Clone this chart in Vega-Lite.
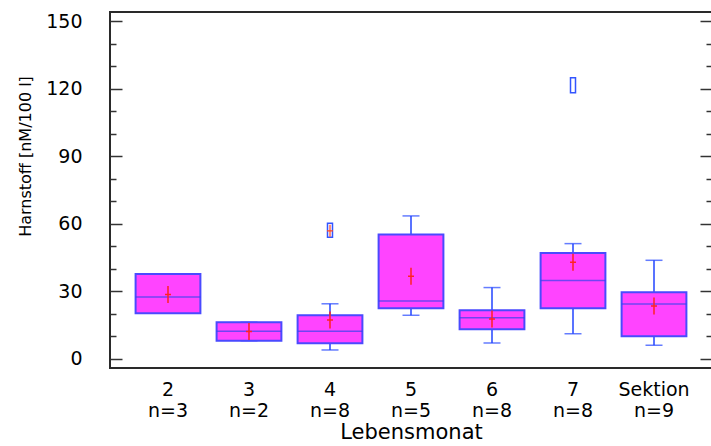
{
  "$schema": "https://vega.github.io/schema/vega-lite/v6.json",
  "width": 602,
  "height": 356,
  "autosize": "none",
  "padding": {"left": 110, "top": 12, "right": 0, "bottom": 78},
  "background": "white",
  "config": {
    "view": {"stroke": "#2a2a2a", "strokeWidth": 2},
    "axis": {
      "labelFont": "DejaVu Sans",
      "titleFont": "DejaVu Sans",
      "labelColor": "#000",
      "titleColor": "#000",
      "titleFontWeight": "normal",
      "grid": false,
      "domain": false,
      "tickColor": "#333",
      "tickWidth": 1.5
    }
  },
  "data": {
    "values": [
      {"grp": "2|n=3", "q1": 20.3, "q3": 37.7, "median": 27.5, "lo": 20.3, "hi": 37.7, "mean": 28.6, "olo": null, "ohi": null, "omean": null},
      {"grp": "3|n=2", "q1": 8.1, "q3": 16.3, "median": 12.3, "lo": 8.1, "hi": 16.3, "mean": 12.2, "olo": null, "ohi": null, "omean": null},
      {"grp": "4|n=8", "q1": 7.0, "q3": 19.4, "median": 12.3, "lo": 4.0, "hi": 24.5, "mean": 17.3, "olo": 54.0, "ohi": 60.2, "omean": 56.9},
      {"grp": "5|n=5", "q1": 22.5, "q3": 55.3, "median": 25.7, "lo": 19.4, "hi": 63.5, "mean": 36.7, "olo": null, "ohi": null, "omean": null},
      {"grp": "6|n=8", "q1": 13.2, "q3": 21.6, "median": 18.3, "lo": 7.1, "hi": 31.7, "mean": 17.8, "olo": null, "ohi": null, "omean": null},
      {"grp": "7|n=8", "q1": 22.5, "q3": 47.0, "median": 34.8, "lo": 11.2, "hi": 51.2, "mean": 42.9, "olo": 118.2, "ohi": 124.8, "omean": null},
      {"grp": "Sektion|n=9", "q1": 10.1, "q3": 29.6, "median": 24.4, "lo": 6.1, "hi": 43.8, "mean": 23.5, "olo": null, "ohi": null, "omean": null}
    ]
  },
  "encoding": {
    "x": {
      "field": "grp",
      "type": "nominal",
      "sort": null,
      "scale": {"type": "band", "paddingInner": 0.2, "paddingOuter": 0.316},
      "axis": {
        "title": "Lebensmonat",
        "titleFontSize": 21,
        "titlePadding": 1,
        "labelAngle": 0,
        "labelFontSize": 19,
        "labelLineHeight": 21,
        "labelExpr": "split(datum.label, '|')",
        "ticks": false,
        "tickSize": 0,
        "labelPadding": 12
      }
    }
  },
  "resolve": {"scale": {"y": "shared"}, "axis": {"y": "independent"}},
  "layer": [
    {
      "mark": {"type": "rule", "color": "#2244ff", "strokeWidth": 1.5},
      "encoding": {
        "y": {
          "field": "lo", "type": "quantitative",
          "scale": {"domain": [-4, 154], "nice": false, "zero": false},
          "axis": {
            "orient": "left",
            "values": [0, 30, 60, 90, 120, 150],
            "tickSize": -12,
            "labelPadding": 40,
            "labelFontSize": 19,
            "title": "Harnstoff [nM/100 l]",
            "titleFontSize": 16,
            "titlePadding": 12,
            "titleY": 144
          }
        },
        "y2": {"field": "hi"}
      }
    },
    {
      "mark": {"type": "tick", "color": "#2244ff", "size": 17, "thickness": 1.5},
      "encoding": {
        "y": {
          "field": "lo", "type": "quantitative",
          "scale": {"domain": [-4, 154], "nice": false, "zero": false},
          "axis": {
            "orient": "left",
            "values": [10, 20, 40, 50, 70, 80, 100, 110, 130, 140],
            "tickSize": -6,
            "labels": false,
            "title": null
          }
        }
      }
    },
    {
      "mark": {"type": "tick", "color": "#2244ff", "size": 17, "thickness": 1.5},
      "encoding": {
        "y": {
          "field": "hi", "type": "quantitative",
          "scale": {"domain": [-4, 154], "nice": false, "zero": false},
          "axis": {
            "orient": "right",
            "values": [0, 30, 60, 90, 120, 150],
            "tickSize": -12,
            "labels": false,
            "title": null
          }
        }
      }
    },
    {
      "mark": {"type": "bar", "fill": "#ff44ff", "stroke": "#4a4aff", "strokeWidth": 2, "opacity": 1},
      "encoding": {
        "y": {
          "field": "q1", "type": "quantitative",
          "scale": {"domain": [-4, 154], "nice": false, "zero": false},
          "axis": {
            "orient": "right",
            "values": [10, 20, 40, 50, 70, 80, 100, 110, 130, 140],
            "tickSize": -6,
            "labels": false,
            "title": null
          }
        },
        "y2": {"field": "q3"}
      }
    },
    {
      "mark": {"type": "tick", "color": "#3344ee", "size": 65, "thickness": 1.5},
      "encoding": {
        "y": {"field": "median", "type": "quantitative", "scale": {"domain": [-4, 154], "nice": false, "zero": false}, "axis": null}
      }
    },
    {
      "mark": {"type": "point", "shape": "M0,-1V1M-0.35,0H0.35", "size": 289, "filled": false, "stroke": "#ff2222", "strokeWidth": 1.5, "opacity": 1},
      "encoding": {
        "y": {"field": "mean", "type": "quantitative", "scale": {"domain": [-4, 154], "nice": false, "zero": false}, "axis": null}
      }
    },
    {
      "mark": {"type": "bar", "width": 5, "fill": "white", "stroke": "#3355ff", "strokeWidth": 1.5},
      "encoding": {
        "y": {"field": "olo", "type": "quantitative", "scale": {"domain": [-4, 154], "nice": false, "zero": false}, "axis": null},
        "y2": {"field": "ohi"}
      }
    },
    {
      "mark": {"type": "point", "shape": "M0,-1V1M-0.5,0H0.5", "size": 144, "filled": false, "stroke": "#ff4422", "strokeWidth": 1.2, "opacity": 1},
      "encoding": {
        "y": {"field": "omean", "type": "quantitative", "scale": {"domain": [-4, 154], "nice": false, "zero": false}, "axis": null}
      }
    }
  ]
}
